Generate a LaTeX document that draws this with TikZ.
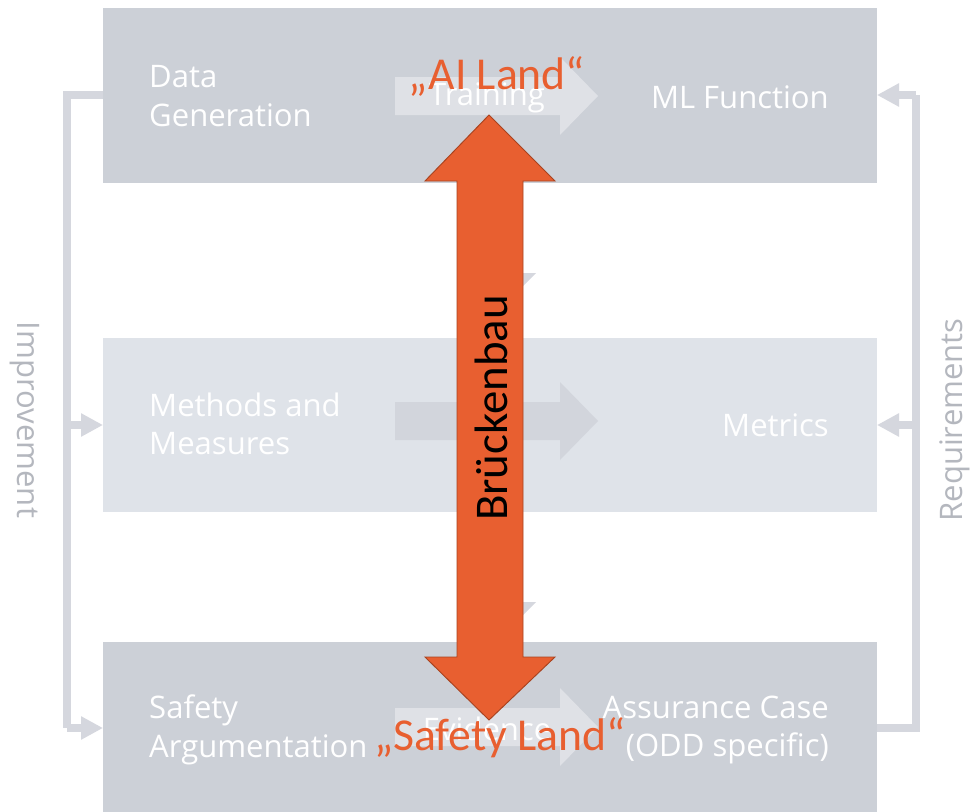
\documentclass[tikz,border=0pt]{standalone}
\usepackage{fontspec}
\setmainfont{Open Sans}
\newfontfamily\calfont{Carlito}
\usepackage{tikz}
\usetikzlibrary{arrows.meta}
\definecolor{bandgray}{HTML}{CCD0D7}
\definecolor{bandlight}{HTML}{DFE3E9}
\definecolor{flowgray}{HTML}{DFE1E6}
\definecolor{flowmid}{HTML}{D2D5DC}
\definecolor{loopgray}{HTML}{D5D7DE}
\definecolor{labgray}{HTML}{B4B7BE}
\definecolor{bridge}{HTML}{E85F30}
\definecolor{bridgeedge}{HTML}{A8431F}
\tikzset{
  lbl/.style={text=white,font=\fontsize{26.5}{33}\selectfont,align=left,inner sep=0pt},
  rlbl/.style={lbl,align=right},
  loop/.style={draw=loopgray,line width=6.8pt,line join=miter},
  looptip/.style={-{Triangle[length=22*0.03cm,width=22*0.03cm]}},
  side/.style={text=labgray,font=\fontsize{26.5}{30}\selectfont,inner sep=0pt},
  land/.style={text=bridge,font=\calfont\fontsize{39}{42}\selectfont,inner sep=0pt}
}
\begin{document}
\begin{tikzpicture}[x=0.03cm,y=-0.03cm]
\useasboundingbox[fill=white] (0,0) rectangle (971,812);
% three layers
\fill[bandgray] (103,8) rectangle (877,183);
\fill[bandlight] (103,338) rectangle (877,512);
\fill[bandgray] (103,642) rectangle (877,812);
\coordinate (top) at (103,95);
\coordinate (topr) at (877,95);
\coordinate (mid) at (103,425);
\coordinate (midr) at (877,425);
\coordinate (bot) at (103,728);
\coordinate (botr) at (877,728);
% flow arrows inside the layers
\foreach \y/\c in {96/flowgray,421/flowmid,727/flowgray}
  \fill[\c] (395,\y-19) -- (560,\y-19) -- (560,\y-39) -- (598,\y) -- (560,\y+39)
    -- (560,\y+19) -- (395,\y+19) -- cycle;
% arrows between the layers (mostly hidden)
\foreach \y in {183,512}
  \fill[loopgray] (490,\y) -- (510,\y) -- (510,\y+90) -- (536,\y+90) -- (500,\y+126)
    -- (464,\y+90) -- (490,\y+90) -- cycle;
% texts of the layers
\node[lbl,anchor=west] (datagen) at (149,96) {Data\\Generation};
\node[lbl] (train) at (487,98) {Training};
\node[rlbl,anchor=east] (mlfun) at (829,97) {ML Function};
\node[lbl,anchor=west] (methods) at (149,424) {Methods and\\Measures};
\node[rlbl,anchor=east] (metrics) at (829,425) {Metrics};
\node[lbl,anchor=west] (safearg) at (149,730) {Safety\\Argumentation};
\node[lbl] (evid) at (487,729) {Evidence};
\node[rlbl,anchor=east] (assur) at (829,730) {Assurance Case\\(ODD specific)};
% feedback loops
\draw[loop] (top) -- (67,95) -- (67,728);
\draw[loop,looptip] (67,425) -- (mid);
\draw[loop,looptip] (67,728) -- (bot);
\draw[loop] (botr) -- (916,728) -- (916,95);
\draw[loop,looptip] (916,95) -- (topr);
\draw[loop,looptip] (916,425) -- (midr);
\node[side,rotate=-90] (impr) at (25,420) {Improvement};
\node[side,rotate=90] (req) at (955,420) {Requirements};
% the bridge
\draw[fill=bridge,draw=bridgeedge,line width=0.8pt,line join=miter]
  (489,115) -- (555,181) -- (523,181) -- (523,657) -- (555,657) -- (489,720)
  -- (425,657) -- (457,657) -- (457,181) -- (425,181) -- cycle;
\node[rotate=90,font=\calfont\fontsize{40}{44}\selectfont,inner sep=0pt] (bau) at (491,408) {Brückenbau};
\node[land] (ailand) at (497,76) {„AI Land“};
\node[land] (safeland) at (500,738) {„Safety Land“};
\end{tikzpicture}
\end{document}
